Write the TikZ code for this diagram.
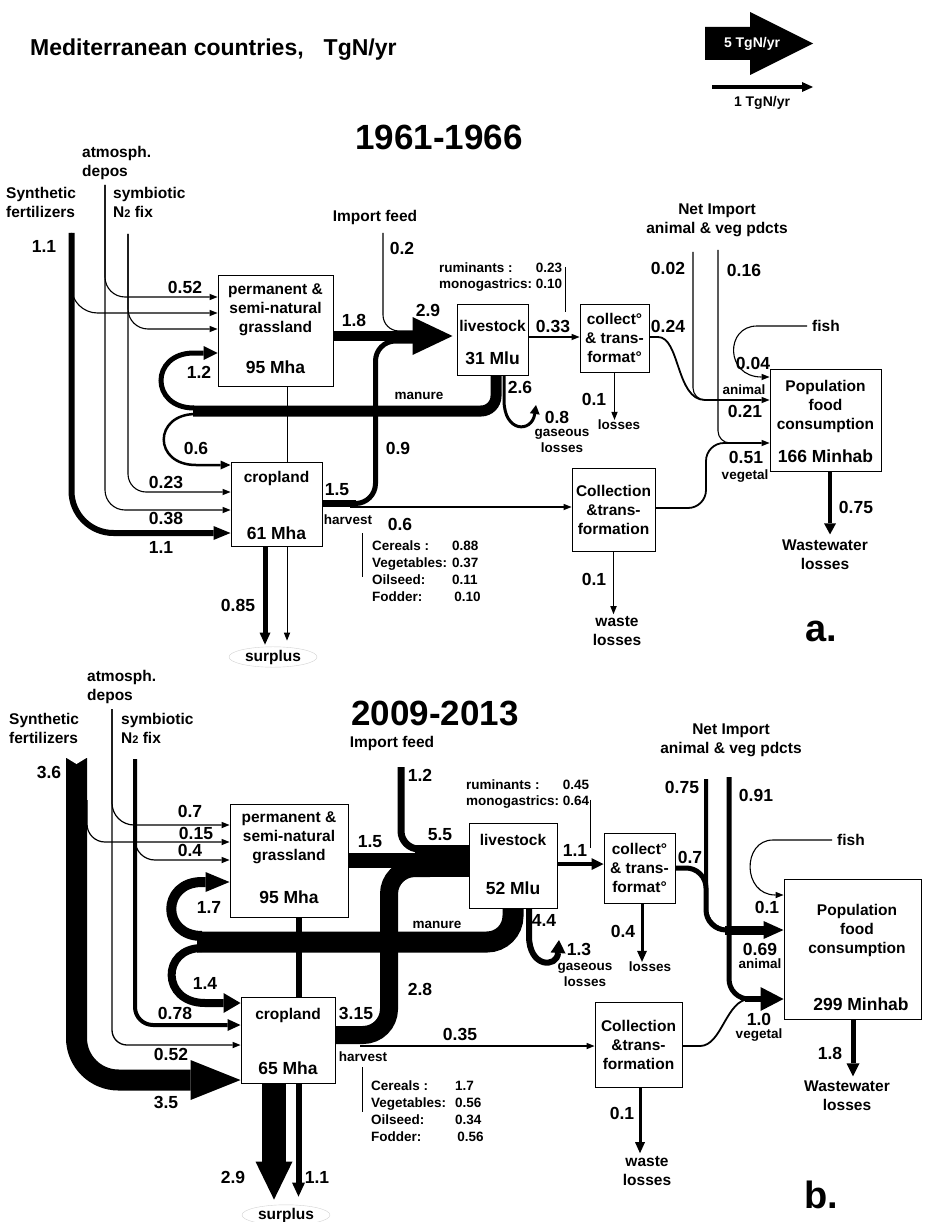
\documentclass[tikz,border=0pt]{standalone}
\usepackage{fontspec}
\setmainfont{Liberation Sans}
\usetikzlibrary{arrows.meta,shapes.geometric,positioning,calc}

\newcommand{\Ntwo}{N{\fontsize{11}{11}\selectfont 2}}

\tikzset{
  lab/.style={font=\fontsize{15.5}{19}\selectfont\bfseries, inner sep=0pt},
  num/.style={font=\fontsize{17.5}{20}\selectfont\bfseries, inner sep=0pt},
  small/.style={font=\fontsize{13.5}{16}\selectfont\bfseries, inner sep=0pt},
  leg/.style={font=\fontsize{14}{16}\selectfont\bfseries, inner sep=0pt},
  year/.style={font=\fontsize{35}{40}\selectfont\bfseries, inner sep=0pt},
  panel/.style={font=\fontsize{38}{40}\selectfont\bfseries, inner sep=0pt},
  box/.style={draw, line width=1pt, fill=white, inner sep=0pt},
  flux/.style={line width=#1},
  arr/.style={-{Triangle[length=8pt,width=6.5pt,line width=0pt]}},
  harr/.style 2 args={-{Triangle[length=#1,width=#2,line width=0pt]}},
  surp/.style={lab, ellipse, draw=black!18, minimum width=88pt, minimum height=20pt},
}

\begin{document}
\begin{tikzpicture}[x=1pt,y=-1pt]
\useasboundingbox (0,0) rectangle (924,1222);

% Title and scale
\node[font=\fontsize{23}{26}\selectfont\bfseries, inner sep=0pt, anchor=west] (title) at (30,50) {Mediterranean countries,\hspace{20pt}TgN/yr};
\fill (705,27) -- (750,27) -- (750,12) -- (813,43.5) -- (750,75) -- (750,60) -- (705,60) -- cycle;
\node[leg, text=white] (scale5) at (752,43.5) {5 TgN/yr};
\coordinate (scale1a) at (712,87);
\coordinate (scale1b) at (813,87);
\draw[flux=3.5pt, harr={11pt}{10pt}] (scale1a) -- (scale1b);
\node[leg] (scale1) at (762,103) {1 TgN/yr};

%% ================= a. 1961-1966 =================
\node[year] (yearA) at (439,137) {1961-1966};

% Boxes
\node[box, minimum width=115pt, minimum height=110pt] (grassA) at (275.5,331) {};
\node[box, minimum width=71pt, minimum height=71pt] (liveA) at (492.5,339.5) {};
\node[box, minimum width=69pt, minimum height=68pt] (collA) at (614.5,338) {};
\node[box, minimum width=91pt, minimum height=84pt] (cropA) at (276.5,504) {};
\node[box, minimum width=83pt, minimum height=83pt] (collnA) at (613.5,509.5) {};
\node[box, minimum width=111pt, minimum height=102pt] (popA) at (825.5,420) {};

\node[lab, align=center] (grassA-t) at (275.5,309.5) {permanent \&\\semi-natural\\grassland};
\node[num] (grassA-v) at (275.5,367) {95 Mha};
\node[lab] (liveA-t) at (492.5,326) {livestock};
\node[num] (liveA-v) at (492.5,358) {31 Mlu};
\node[lab, align=center] (collA-t) at (614.5,338) {collect°\\\& trans-\\format°};
\node[lab] (cropA-t) at (276.5,478) {cropland};
\node[num] (cropA-v) at (276.5,533) {61 Mha};
\node[lab, align=center] (collnA-t) at (613.5,509.5) {Collection\\\&trans-\\formation};
\node[lab, align=center] (popA-t) at (825.5,406) {Population\\food\\consumption};
\node[num] (popA-v) at (825.5,456) {166 Minhab};

% Sources
\node[lab, anchor=west, align=left] (atmA) at (82,162.5) {atmosph.\\depos};
\node[lab, anchor=west, align=left] (synA) at (6,202.5) {Synthetic\\fertilizers};
\node[lab, anchor=west, align=left] (symA) at (113,202.5) {symbiotic\\\Ntwo\ fix};
\node[lab] (impA) at (375,217) {Import feed};
\node[lab, align=center] (netA) at (717,220) {Net Import\\animal \& veg pdcts};
\node[lab] (fishA) at (826,326) {fish};
\coordinate (synA-o) at (71.5,233);
\coordinate (atmA-o) at (105,185);
\coordinate (symA-o) at (128,234);
\coordinate (impA-o) at (383,233);
\coordinate (netA-o1) at (693,252);
\coordinate (netA-o2) at (718,250);

% Sinks
\node[surp] (surpA) at (273,657) {surplus};
\node[small] (lossA) at (619,425) {losses};
\node[small, align=center] (gasA) at (562,441) {gaseous\\losses};
\node[lab, align=center] (wasteA) at (617,631) {waste\\losses};
\node[lab, align=center] (wwA) at (825,554.5) {Wastewater\\losses};

% Inputs to grassland and cropland
\draw[flux=1.1pt, rounded corners=20pt, arr] (atmA-o) -- (105,297) -- (grassA.west |- 0,297);
\draw[flux=1.1pt, rounded corners=20pt, arr] (atmA-o) -- (105,510) -- (cropA.west |- 0,510);
\draw[flux=1.1pt, rounded corners=20pt, arr] (symA-o) -- (128,329) -- (grassA.west |- 0,329);
\draw[flux=1.1pt, rounded corners=18pt, arr] (symA-o) -- (128,492) -- (cropA.west |- 0,492);
\draw[flux=1.1pt, rounded corners=26pt, arr] (synA-o) -- (71.5,313) -- (grassA.west |- 0,313);
\draw[flux=6pt, rounded corners=42pt, harr={17pt}{14pt}] (synA-o) -- (71.5,533) -- (cropA.west |- 0,533);

% Feed to livestock
\draw[flux=1.1pt, rounded corners=16pt] (impA-o) -- (383,331) -- (418,331);
\draw[flux=5pt, rounded corners=20pt] (350,503.5) -- (375.5,503.5) -- (375.5,341) -- (418,341);
\draw[flux=10pt, shorten >=4pt, harr={40pt}{38pt}] (grassA.east |- 0,336) -- (liveA.west |- 0,336);

% Harvest
\draw[flux=7pt] (cropA.east |- 0,503.5) -- (356,503.5);
\draw[flux=1.6pt, arr] (350,507) -- (collnA.west |- 0,507);

% Manure
\draw[flux=11pt, rounded corners=15pt] (liveA.south -| 496,0) -- (496,411) -- (193,411);
\draw[flux=5pt, harr={14pt}{14pt}] (194,408) .. controls (150,408) and (150,353) .. (194,353) -- (grassA.west |- 0,353);
\draw[flux=2.5pt, harr={10pt}{9pt}] (196,414) .. controls (153,414) and (153,465) .. (196,465) -- (cropA.west |- 0,465);
\draw[flux=3pt, harr={9pt}{10pt}] (liveA.south -| 504,0) -- (504,400) .. controls (504,433) and (532,433) .. (536,405);

% Livestock products and food
\draw[flux=1.5pt, arr] (liveA.east |- 0,337) -- (collA.west |- 0,337);
\draw[flux=1pt, arr] (collA.south) -- (collA.south |- lossA.north);
\draw[flux=1.1pt, rounded corners=12pt] (netA-o1) -- (693,400) -- (725,400);
\draw[flux=1.1pt, rounded corners=12pt] (netA-o2) -- (718,443) -- (745,443);
\draw[flux=1.8pt, arr] (collA.east |- 0,337) -- (658,337) .. controls (680,337) and (676,400) .. (705,400) -- (popA.west |- 0,400);
\draw[flux=1.8pt, rounded corners=18pt, arr] (collnA.east |- 0,508) -- (706,508) -- (706,443) -- (popA.west |- 0,443);
\draw[flux=1.1pt, arr, shorten <=5pt] (fishA.west) -- (757,326) .. controls (725,326) and (725,377) .. (popA.west |- 0,377);

% Losses
\draw[flux=1pt, arr, shorten >=2pt] (collnA.south) -- (collnA.south |- wasteA.north);
\draw[flux=4pt, harr={11pt}{12pt}, shorten >=5pt] (popA.south -| 830,0) -- (wwA.north -| 830,0);
\draw[flux=0.7pt] (grassA.south -| 287,0) -- (cropA.north -| 287,0);
\draw[flux=0.7pt, arr, shorten >=6pt] (cropA.south -| 287,0) -- (surpA.north -| 287,0);
\draw[flux=5pt, harr={12pt}{11pt}, shorten >=2pt] (cropA.south -| 265,0) -- (surpA.north -| 265,0);

% Harvest and feed details
\node[small, anchor=west] (ruminA) at (439,277) {\begin{tabular}{@{}l@{\ }l@{}}ruminants : & 0.23\\ monogastrics: & 0.10\end{tabular}};
\draw[flux=0.8pt] ([shift={(3,6)}]ruminA.north east) -- ++(0,45);
\node[font=\fontsize{13.5}{17}\selectfont\bfseries, inner sep=0pt, anchor=north west] (cropA-tab) at (372,538)
  {\begin{tabular}{@{}p{80pt}@{}l@{}}Cereals : & 0.88\\ Vegetables: & 0.37\\ Oilseed: & 0.11\\ Fodder: & \,0.10\end{tabular}};
\draw[flux=0.8pt] ([shift={(-10,-5)}]cropA-tab.north west) -- ++(0,44);

% Values
\node[num] (vA1) at (44,246) {1.1};
\node[num] (vA2) at (185,287) {0.52};
\node[num] (vA3) at (402,248) {0.2};
\node[num] (vA4) at (354,320) {1.8};
\node[num] (vA5) at (428,310) {2.9};
\node[num] (vA6) at (553,326) {0.33};
\node[num] (vA7) at (668,326) {0.24};
\node[num] (vA8) at (668,268) {0.02};
\node[num] (vA9) at (744,270) {0.16};
\node[num] (vA10) at (753,363) {0.04};
\node[small] (animA) at (744,390) {animal};
\node[num] (vA11) at (745,411) {0.21};
\node[num] (vA12) at (746,457) {0.51};
\node[small] (vegA) at (745,476) {vegetal};
\node[num] (vA13) at (199,372) {1.2};
\node[num] (vA14) at (196,448) {0.6};
\node[num] (vA15) at (166,482) {0.23};
\node[num] (vA16) at (166,518) {0.38};
\node[num] (vA17) at (161,547) {1.1};
\node[num] (vA18) at (337,490) {1.5};
\node[small] (harvA) at (348,520) {harvest};
\node[num] (vA19) at (400,524) {0.6};
\node[num] (vA20) at (398,448) {0.9};
\node[num] (vA21) at (520,387) {2.6};
\node[num] (vA22) at (557,417) {0.8};
\node[small] (manA) at (419,396) {manure};
\node[num] (vA23) at (594,399) {0.1};
\node[num] (vA24) at (238,605) {0.85};
\node[num] (vA25) at (594,579) {0.1};
\node[num] (vA26) at (856,507) {0.75};
\node[panel] (panA) at (821,631) {a.};

%% ================= b. 2009-2013 =================
\node[year] (yearB) at (435,713) {2009-2013};

% Boxes
\node[box, minimum width=118pt, minimum height=113pt] (grassB) at (289,860.5) {};
\node[box, minimum width=88pt, minimum height=85pt] (liveB) at (513,865.5) {};
\node[box, minimum width=71pt, minimum height=70pt] (collB) at (639.5,868) {};
\node[box, minimum width=94pt, minimum height=86pt] (cropB) at (288,1040) {};
\node[box, minimum width=87pt, minimum height=85pt] (collnB) at (638.5,1044.5) {};
\node[box, minimum width=137pt, minimum height=140pt] (popB) at (852.5,949) {};

\node[lab, align=center] (grassB-t) at (289,838) {permanent \&\\semi-natural\\grassland};
\node[num] (grassB-v) at (289,897) {95 Mha};
\node[lab] (liveB-t) at (513,840) {livestock};
\node[num] (liveB-v) at (513,888) {52 Mlu};
\node[lab, align=center] (collB-t) at (639.5,867.5) {collect°\\\& trans-\\format°};
\node[lab] (cropB-t) at (288,1015) {cropland};
\node[num] (cropB-v) at (288,1068) {65 Mha};
\node[lab, align=center] (collnB-t) at (638.5,1045) {Collection\\\&trans-\\formation};
\node[lab, align=center] (popB-t) at (857,930) {Population\\food\\consumption};
\node[num] (popB-v) at (861,1004) {299 Minhab};

% Sources
\node[lab, anchor=west, align=left] (atmB) at (87,687) {atmosph.\\depos};
\node[lab, anchor=west, align=left] (synB) at (9,728) {Synthetic\\fertilizers};
\node[lab, anchor=west, align=left] (symB) at (121,728) {symbiotic\\\Ntwo\ fix};
\node[lab] (impB) at (392,743) {Import feed};
\node[lab, align=center] (netB) at (731,740.5) {Net Import\\animal \& veg pdcts};
\node[lab] (fishB) at (851,840) {fish};
\coordinate (synB-o) at (76.5,758);
\coordinate (atmB-o) at (112,709);
\coordinate (symB-o) at (135,759);
\coordinate (impB-o) at (401,767);
\coordinate (netB-o1) at (706,779);
\coordinate (netB-o2) at (729,777);

% Sinks
\node[surp] (surpB) at (286,1215) {surplus};
\node[small] (lossB) at (650,967) {losses};
\node[small, align=center] (gasB) at (585,975) {gaseous\\losses};
\node[lab, align=center] (wasteB) at (647,1171) {waste\\losses};
\node[lab, align=center] (wwB) at (847,1095.5) {Wastewater\\losses};

% Inputs to grassland and cropland
\draw[flux=1.2pt, rounded corners=22pt, arr] (atmB-o) -- (112,825) -- (grassB.west |- 0,825);
\draw[flux=1.3pt, rounded corners=15pt, arr] (atmB-o) -- (112,1045) -- (cropB.west |- 0,1045);
\draw[flux=1.2pt, rounded corners=20pt, arr] (symB-o) -- (135,860) -- (grassB.west |- 0,860);
\draw[flux=4pt, rounded corners=18pt, harr={13pt}{12pt}] (symB-o) -- (135,1025) -- (cropB.west |- 0,1025);
\draw[flux=1.2pt, rounded corners=18pt, arr] (87,800) -- (87,842) -- (grassB.west |- 0,842);
\draw[flux=21pt, rounded corners=42pt, harr={50pt}{40pt}] (synB-o) -- (76.5,1080) -- (cropB.west |- 0,1080);
\fill[white] (65,757) -- (76.5,764) -- (88,757) -- cycle;

% Feed to livestock
\draw[flux=7pt, rounded corners=18pt] (impB-o) -- (401,849) -- (430,849);
\draw[flux=18pt, rounded corners=26pt] (cropB.east |- 0,1035) -- (389,1035) -- (389,868) -- (430,868);
\draw[flux=15pt] (grassB.east |- 0,860.5) -- (425,860.5);
\draw[flux=32pt] (415,861) -- (liveB.west |- 0,861);

% Harvest
\draw[flux=1.5pt, arr] (360,1046) -- (collnB.west |- 0,1046);

% Manure
\draw[flux=21pt, rounded corners=26pt] (liveB.south -| 513,0) -- (513,942) -- (197,942);
\draw[flux=10pt, harr={24pt}{20pt}] (202,936) .. controls (161,936) and (161,882) .. (202,882) -- (grassB.west |- 0,882);
\draw[flux=8pt, harr={17pt}{20pt}] (202,948) .. controls (161,948) and (161,1003) .. (205,1003) -- (cropB.west |- 0,1003);
\draw[flux=6pt, harr={13pt}{15pt}] (liveB.south -| 529,0) -- (529,936) .. controls (529,968) and (557,968) .. (559,940);

% Livestock products and food
\draw[flux=4pt, harr={12pt}{12pt}] (liveB.east |- 0,864) -- (collB.west |- 0,864);
\draw[flux=3pt, harr={11pt}{10pt}] (collB.south -| 642,0) -- (lossB.north -| 642,0);
\draw[flux=4pt, rounded corners=22pt] (netB-o1) -- (706,930) -- (735,930);
\draw[flux=5pt, rounded corners=20pt] (collB.east |- 0,868) -- (706,868) -- (706,930) -- (735,930);
\draw[flux=9pt, harr={20pt}{18pt}] (725,930) -- (popB.west |- 0,930);
\draw[flux=5pt, rounded corners=20pt] (netB-o2) -- (729,999) -- (750,999);
\draw[flux=1.8pt] (collnB.east |- 0,1046) -- (700,1046) .. controls (722,1046) and (726,999) .. (750,999);
\draw[flux=6pt, harr={23pt}{24pt}] (745,999) -- (popB.west |- 0,999);
\draw[flux=1.1pt, arr, shorten <=5pt] (fishB.west) -- (773,840) .. controls (742,840) and (742,895) .. (popB.west |- 0,895);

% Losses
\draw[flux=3pt, harr={11pt}{10pt}, shorten >=3pt] (collnB.south -| 640,0) -- (wasteB.north -| 640,0);
\draw[flux=5pt, harr={13pt}{13pt}, shorten >=4pt] (popB.south -| 853,0) -- (wwB.north -| 853,0);
\draw[flux=6pt] (grassB.south -| 298.5,0) -- (cropB.north -| 298.5,0);
\draw[flux=6pt, harr={14pt}{13pt}, shorten >=8pt] (cropB.south -| 298.5,0) -- (surpB.north -| 298.5,0);
\draw[flux=24pt, harr={38pt}{37pt}, shorten >=5pt] (cropB.south -| 274,0) -- (surpB.north -| 274,0);

% Harvest and feed details
\node[small, anchor=west] (ruminB) at (466,794) {\begin{tabular}{@{}l@{\ }l@{}}ruminants : & 0.45\\ monogastrics: & 0.64\end{tabular}};
\draw[flux=0.8pt] ([shift={(1,22)}]ruminB.north east) -- ++(0,48);
\node[font=\fontsize{13.5}{16.7}\selectfont\bfseries, inner sep=0pt, anchor=north west] (cropB-tab) at (371,1079)
  {\begin{tabular}{@{}p{84pt}@{}l@{}}Cereals : & 1.7\\ Vegetables: & 0.56\\ Oilseed: & 0.34\\ Fodder: & \,0.56\end{tabular}};
\draw[flux=0.8pt] ([shift={(-9,-12)}]cropB-tab.north west) -- ++(0,45);

% Values
\node[num] (vB1) at (49,772) {3.6};
\node[num] (vB2) at (190,811) {0.7};
\node[num] (vB3) at (196,833) {0.15};
\node[num] (vB4) at (190,850) {0.4};
\node[num] (vB5) at (420,775) {1.2};
\node[num] (vB6) at (370,842) {1.5};
\node[num] (vB7) at (440,835) {5.5};
\node[num] (vB8) at (575,850) {1.1};
\node[num] (vB9) at (690,857) {0.7};
\node[num] (vB10) at (682,787) {0.75};
\node[num] (vB11) at (756,795) {0.91};
\node[num] (vB12) at (767,907) {0.1};
\node[num] (vB13) at (760,949) {0.69};
\node[small] (animB) at (760,964) {animal};
\node[num] (vB14) at (759,1019) {1.0};
\node[small] (vegB) at (759,1035) {vegetal};
\node[num] (vB15) at (209,907) {1.7};
\node[num] (vB16) at (205,983) {1.4};
\node[num] (vB17) at (175,1013) {0.78};
\node[num] (vB18) at (171,1054) {0.52};
\node[num] (vB19) at (166,1102) {3.5};
\node[num] (vB20) at (356,1013) {3.15};
\node[small] (harvB) at (363,1057) {harvest};
\node[num] (vB21) at (460,1034) {0.35};
\node[num] (vB22) at (420,989) {2.8};
\node[num] (vB23) at (544,920) {4.4};
\node[num] (vB24) at (579,949) {1.3};
\node[small] (manB) at (437,925) {manure};
\node[num] (vB25) at (623,931) {0.4};
\node[num] (vB26) at (622,1113) {0.1};
\node[num] (vB27) at (830,1053) {1.8};
\node[num] (vB28) at (233,1177) {2.9};
\node[num] (vB29) at (317,1177) {1.1};
\node[panel] (panB) at (821,1195) {b.};

\end{tikzpicture}
\end{document}
